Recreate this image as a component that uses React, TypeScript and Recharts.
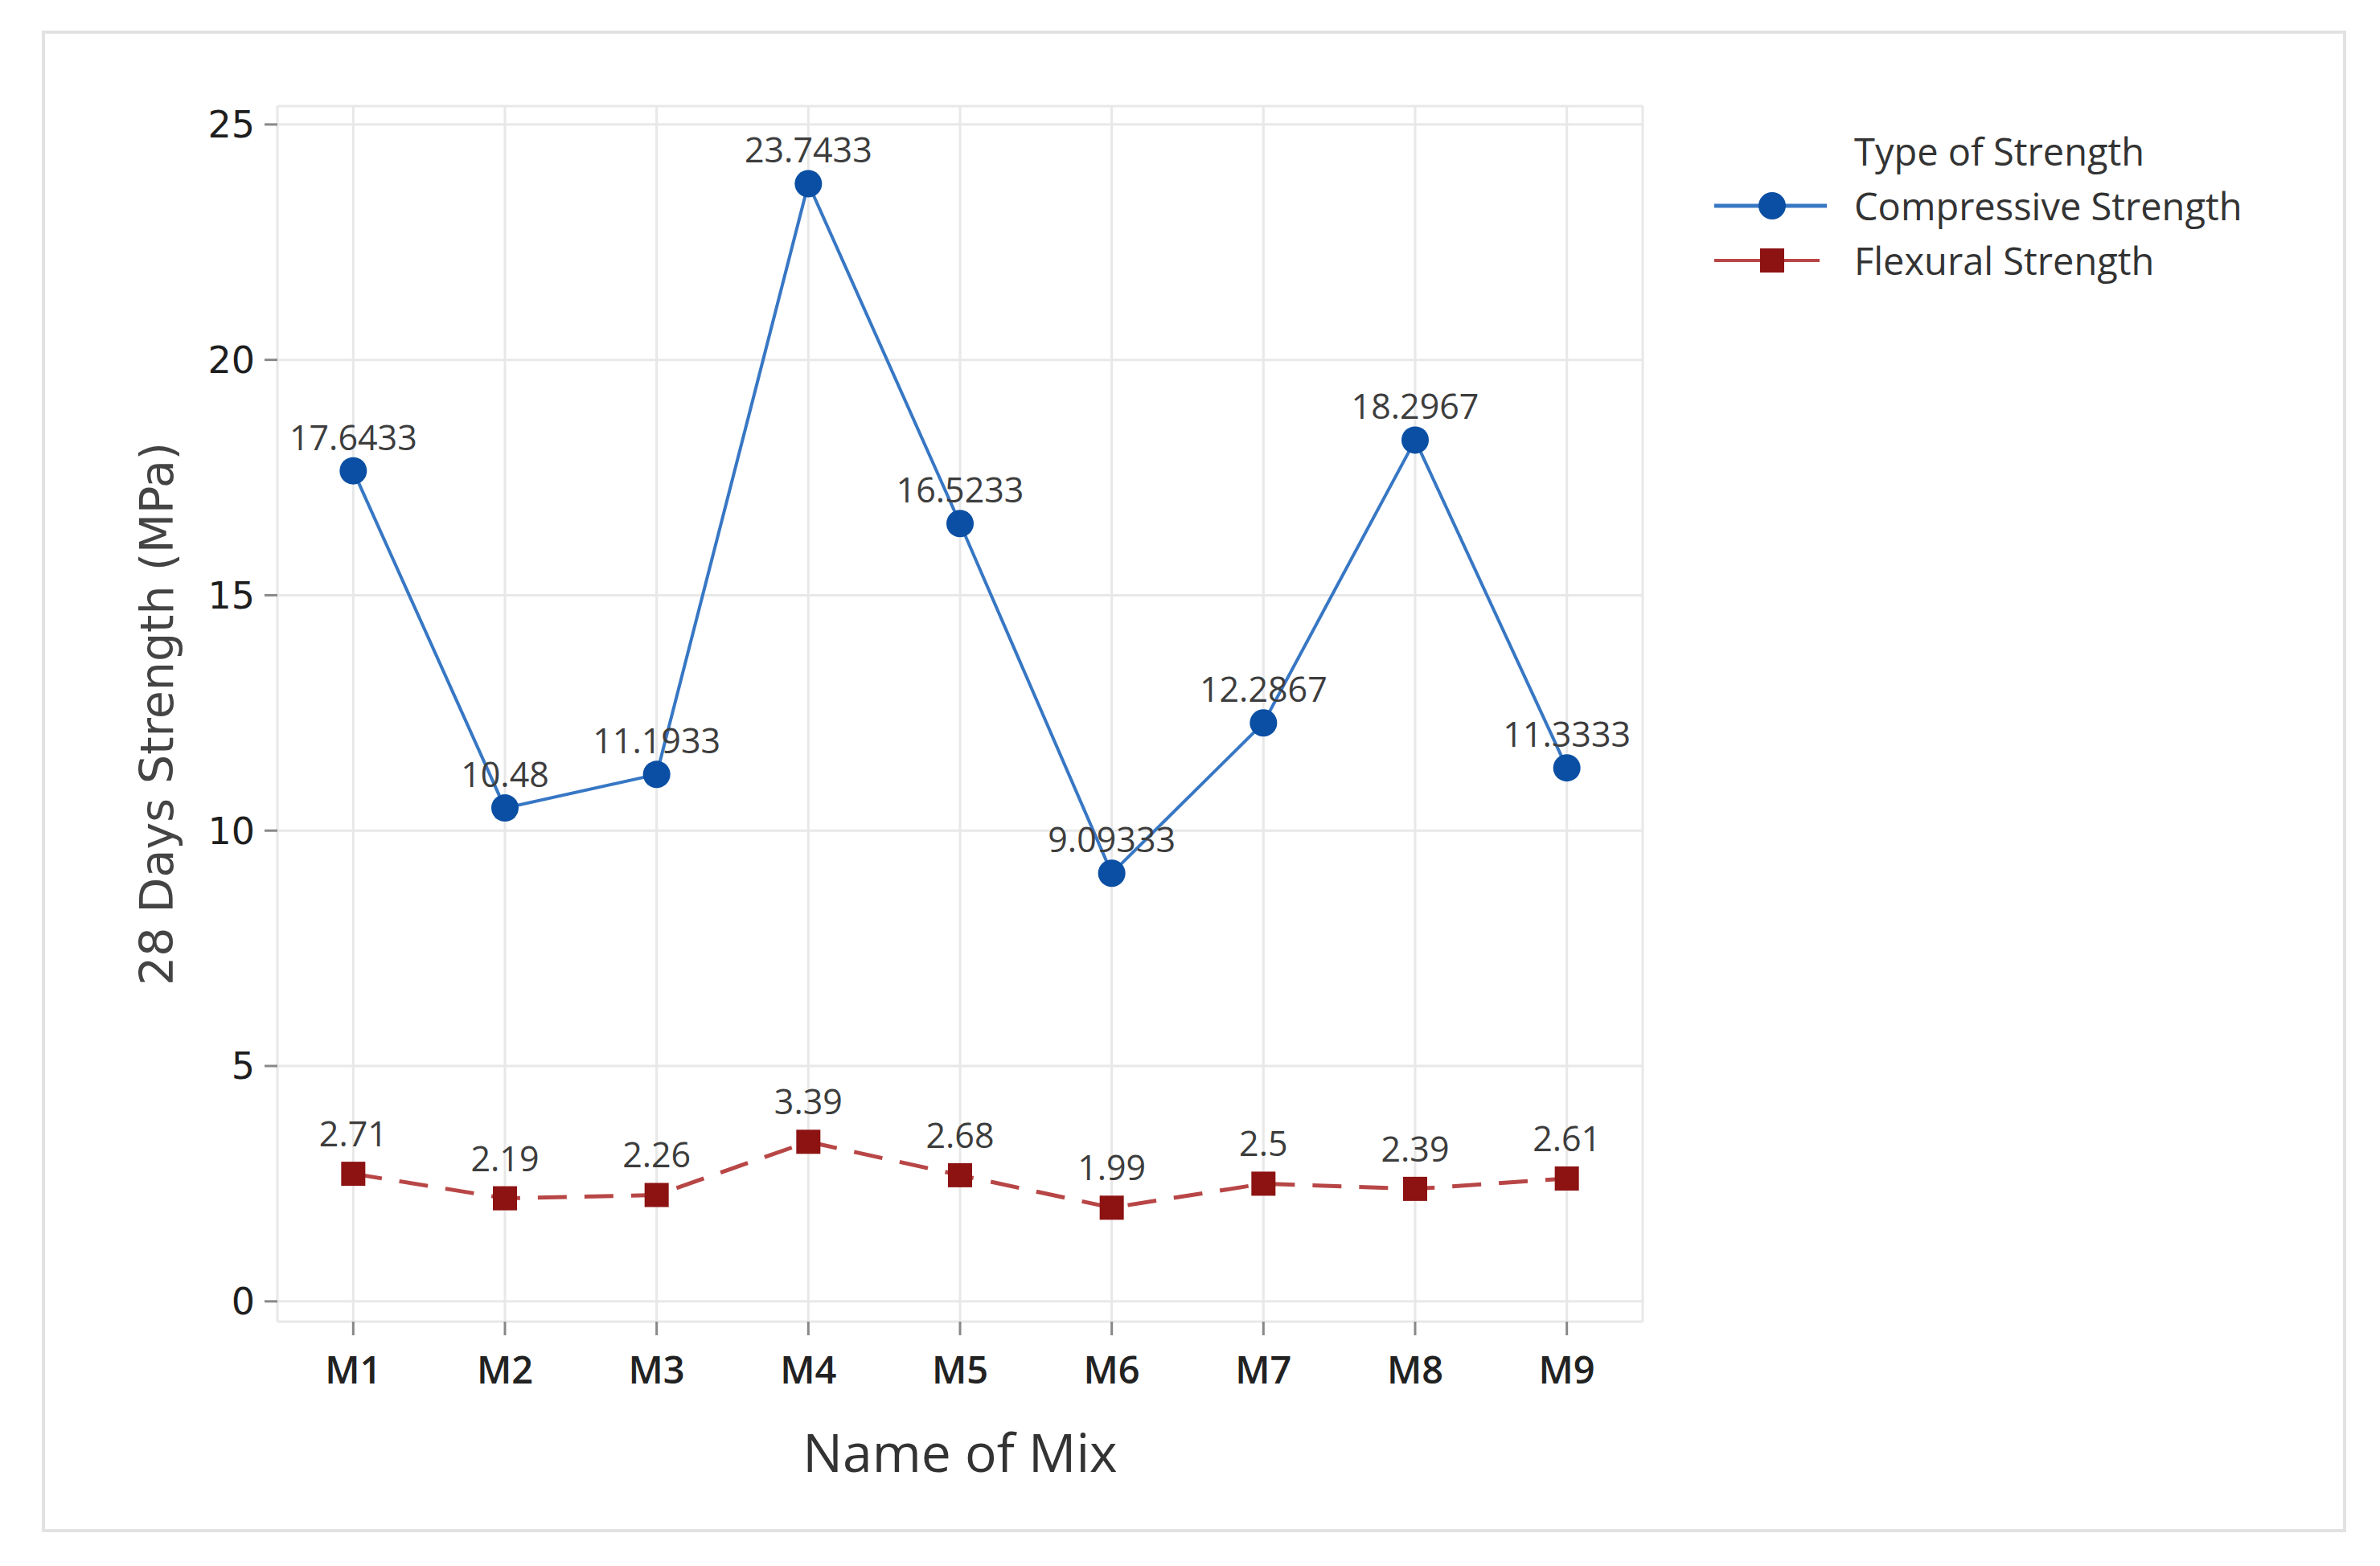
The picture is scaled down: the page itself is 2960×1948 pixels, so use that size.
import React from 'react'
import {
  LineChart,
  Line,
  XAxis,
  YAxis,
  CartesianGrid,
  Legend,
  LabelList,
  ReferenceArea,
} from 'recharts'

const mixes = ['M1', 'M2', 'M3', 'M4', 'M5', 'M6', 'M7', 'M8', 'M9']
const compressive = [17.6433, 10.48, 11.1933, 23.7433, 16.5233, 9.09333, 12.2867, 18.2967, 11.3333]
const flexural = [2.71, 2.19, 2.26, 3.39, 2.68, 1.99, 2.5, 2.39, 2.61]
const yTicks = [0, 5, 10, 15, 20, 25]

const data = mixes.map((mix, i) => ({
  mix,
  compressive: compressive[i],
  flexural: flexural[i],
}))

const BLUE_LINE = '#3777c4'
const BLUE_DOT = '#0a4fa3'
const RED_LINE = '#b84646'
const RED_DOT = '#8d1212'

const SquareDot = (props: any) => {
  const { cx, cy, index } = props
  if (cx == null || cy == null) return null
  return <rect key={`sq-${index}`} x={cx - 15} y={cy - 15} width={30} height={30} fill={RED_DOT} />
}

const LegendBox = () => (
  <div style={{ fontFamily: '"Open Sans", sans-serif', fontSize: 47, color: '#333' }}>
    <div style={{ height: 68, lineHeight: '68px', paddingLeft: 174 }}>Type of Strength</div>
    <div style={{ height: 68, display: 'flex', alignItems: 'center' }}>
      <svg width={174} height={68}>
        <line x1={0} y1={34} x2={140} y2={34} stroke={BLUE_LINE} strokeWidth={5} />
        <circle cx={72} cy={34} r={17} fill={BLUE_DOT} />
      </svg>
      <span>Compressive Strength</span>
    </div>
    <div style={{ height: 68, display: 'flex', alignItems: 'center' }}>
      <svg width={174} height={68}>
        <line x1={0} y1={34} x2={131} y2={34} stroke={RED_LINE} strokeWidth={4} />
        <rect x={57} y={19} width={30} height={30} fill={RED_DOT} />
      </svg>
      <span>Flexural Strength</span>
    </div>
  </div>
)

export default function App() {
  return (
    <div style={{ position: 'absolute', left: 0, top: 0, width: 2960, height: 1948, background: '#fff' }}>
      <div
        style={{
          position: 'absolute',
          left: 52,
          top: 38,
          width: 2866,
          height: 1868,
          boxSizing: 'border-box',
          border: '4px solid #e2e2e2',
        }}
      />
      <div style={{ position: 'absolute', left: 0, top: 0 }}>
        <LineChart
          width={2960}
          height={1948}
          data={data}
          margin={{ top: 132, right: 917, bottom: 54, left: 95 }}
        >
          <CartesianGrid stroke="#e8e8e8" strokeWidth={3} />
          <ReferenceArea fill="none" stroke="#999" strokeWidth={4} ifOverflow="visible" />
          <XAxis
            dataKey="mix"
            scale="band"
            height={250}
            axisLine={false}
            tickLine={{ stroke: '#888', strokeWidth: 3 }}
            tickSize={17}
            tickMargin={27}
            tick={{ fontFamily: '"Open Sans", sans-serif', fontWeight: 600, fontSize: 47, fill: '#222' }}
            label={{
              value: 'Name of Mix',
              position: 'insideBottom',
              offset: 63,
              style: { fontFamily: '"Open Sans", sans-serif', fontSize: 66, fill: '#333' },
            }}
          />
          <YAxis
            type="number"
            domain={[-0.43, 25.39]}
            ticks={yTicks}
            width={250}
            axisLine={false}
            tickLine={{ stroke: '#888', strokeWidth: 3 }}
            tickSize={16}
            tickMargin={12}
            tick={{ fontFamily: '"DejaVu Sans", sans-serif', fontSize: 46, fill: '#1e1e1e' }}
            label={{
              value: '28 Days Strength (MPa)',
              angle: -90,
              position: 'insideLeft',
              offset: 100,
              style: { textAnchor: 'middle', fontFamily: '"DejaVu Sans", sans-serif', fontSize: 57, fill: '#444' },
            }}
          />
          <Legend
            layout="vertical"
            align="center"
            verticalAlign="middle"
            content={<LegendBox />}
            wrapperStyle={{ position: 'absolute', left: 2132, top: 154, width: 800 }}
          />
          <Line
            dataKey="compressive"
            name="Compressive Strength"
            type="linear"
            stroke={BLUE_LINE}
            strokeWidth={4}
            dot={{ r: 17, fill: BLUE_DOT, stroke: 'none' }}
            activeDot={false}
            isAnimationActive={false}
          >
            <LabelList
              dataKey="compressive"
              position="top"
              offset={26}
              style={{ fontFamily: '"Open Sans", sans-serif', fontSize: 43, fill: '#3d3d3d' }}
            />
          </Line>
          <Line
            dataKey="flexural"
            name="Flexural Strength"
            type="linear"
            stroke={RED_LINE}
            strokeWidth={5}
            strokeDasharray="36 22"
            dot={<SquareDot />}
            activeDot={false}
            isAnimationActive={false}
          >
            <LabelList
              dataKey="flexural"
              position="top"
              offset={34}
              style={{ fontFamily: '"Open Sans", sans-serif', fontSize: 43, fill: '#3d3d3d' }}
            />
          </Line>
        </LineChart>
      </div>
    </div>
  )
}
